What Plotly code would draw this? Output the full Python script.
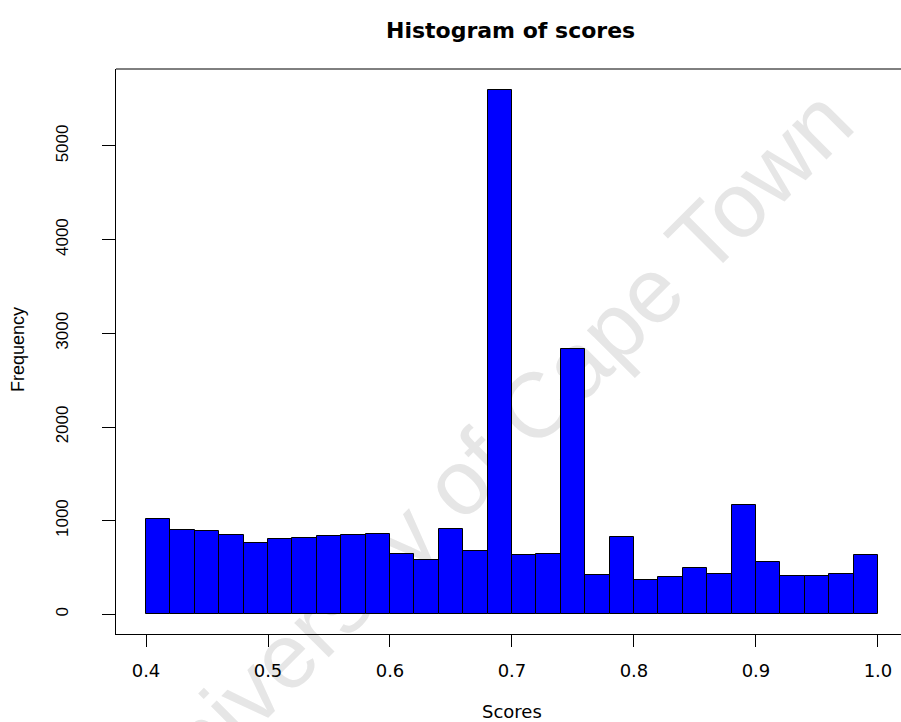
import plotly.graph_objects as go

# ---- data ----
bin_edges = [0.40, 0.42, 0.44, 0.46, 0.48, 0.50, 0.52, 0.54, 0.56, 0.58,
             0.60, 0.62, 0.64, 0.66, 0.68, 0.70, 0.72, 0.74, 0.76, 0.78,
             0.80, 0.82, 0.84, 0.86, 0.88, 0.90, 0.92, 0.94, 0.96, 0.98, 1.00]
counts = [1014, 900, 886, 847, 761, 807, 815, 839, 843, 861,
          647, 580, 911, 676, 5598, 630, 644, 2833, 416, 822,
          366, 401, 491, 427, 1167, 555, 412, 406, 427, 630]
x_tick_vals = [0.4, 0.5, 0.6, 0.7, 0.8, 0.9, 1.0]
x_tick_text = ["0.4", "0.5", "0.6", "0.7", "0.8", "0.9", "1.0"]
y_tick_vals = [0, 1000, 2000, 3000, 4000, 5000]
y_tick_text = ["0", "1000", "2000", "3000", "4000", "5000"]

centers = [(a + b) / 2 for a, b in zip(bin_edges[:-1], bin_edges[1:])]
widths = [b - a for a, b in zip(bin_edges[:-1], bin_edges[1:])]

W, H = 901, 722
L, R, T, B = 116, 0, 69, 88
PW, PH = W - L - R, H - T - B


def px(x):
    return (x - L) / PW


def py(y):
    return (H - B - y) / PH


fig = go.Figure()
fig.add_trace(go.Bar(
    x=centers, y=counts, width=widths,
    marker=dict(color="#0000FF", line=dict(color="black", width=1)),
    hoverinfo="x+y",
))

hfont = "DejaVu Sans"
vfont = "Liberation Sans"

fig.update_layout(
    width=W, height=H,
    margin=dict(l=L, r=R, t=T, b=B),
    plot_bgcolor="white", paper_bgcolor="white",
    showlegend=False, bargap=0,
    xaxis=dict(
        range=[0.3754, 1.0189], tickvals=x_tick_vals, ticktext=x_tick_text,
        ticks="outside", ticklen=12, tickcolor="black", tickwidth=1,
        showline=True, linecolor="black", linewidth=1, mirror=False,
        showgrid=False, zeroline=False,
        tickfont=dict(family=hfont, size=18, color="black"),
        ticklabelstandoff=8,
    ),
    yaxis=dict(
        range=[-210, 5822], tickvals=y_tick_vals, ticktext=y_tick_text,
        ticks="outside", ticklen=13, tickcolor="black", tickwidth=1,
        tickangle=-90,
        showline=True, linecolor="black", linewidth=1, mirror=False,
        showgrid=False, zeroline=False,
        tickfont=dict(family=vfont, size=17, color="black"),
        ticklabelstandoff=27,
    ),
    shapes=[
        dict(type="line", xref="paper", yref="paper", x0=0, x1=1, y0=1, y1=1,
             line=dict(color="black", width=1)),
        dict(type="line", xref="paper", yref="paper",
             x0=px(179), y0=py(749), x1=px(779), y1=py(149),
             line=dict(color="rgba(0,0,0,0)", width=0), layer="below",
             label=dict(text="University of Cape Town", textangle=-45,
                        textposition="middle", yanchor="middle",
                        font=dict(family="Liberation Sans", size=92,
                                  color="#e6e6e6"))),
    ],
    annotations=[
        dict(text="<b>Histogram of scores</b>", xref="paper", yref="paper",
             x=px(510), y=py(30), showarrow=False, xanchor="center", yanchor="middle",
             font=dict(family=hfont, size=22, color="black")),
        dict(text="Scores", xref="paper", yref="paper",
             x=px(512), y=py(711), showarrow=False, xanchor="center", yanchor="middle",
             font=dict(family=hfont, size=18, color="black")),
        dict(text="Frequency", xref="paper", yref="paper",
             x=px(18), y=py(350), showarrow=False, xanchor="center", yanchor="middle",
             textangle=-90,
             font=dict(family=vfont, size=18, color="black")),
    ],
)

fig.write_html("out.html")
